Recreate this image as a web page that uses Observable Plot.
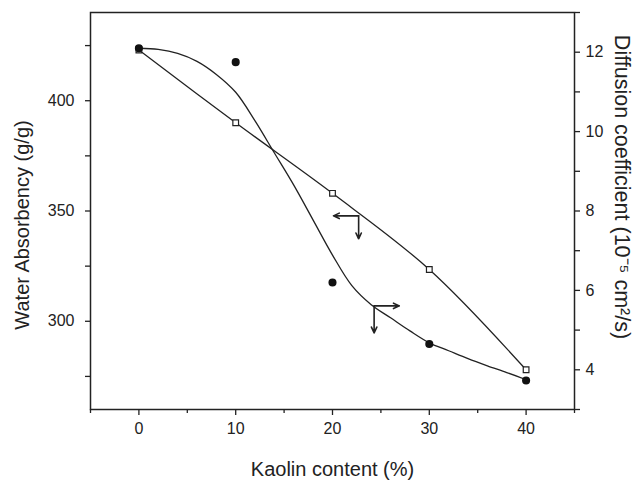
<!DOCTYPE html>
<html>
<head>
<meta charset="utf-8">
<script src="https://cdn.jsdelivr.net/npm/d3@7"></script>
<script src="https://cdn.jsdelivr.net/npm/@observablehq/plot@0.6"></script>
<style>
  body { margin: 0; background: #fff; }
</style>
</head>
<body>
<div id="chart"></div>
<script>
// ---- data ----
const kaolin = [0, 10, 20, 30, 40];
const absorbency = [423, 390, 358, 323.5, 278];          // left axis (g/g), open squares
const diffusion = [12.1, 11.75, 6.2, 4.65, 3.73];        // right axis (1e-5 cm2/s), filled circles
// fitted curve through diffusion data
const fitX = [0, 2, 4, 6, 8, 10, 12, 14, 16, 18, 20, 22, 24, 26, 28, 30, 32, 34, 36, 38, 40];
const fitDiffusion = [12.10, 12.07, 11.97, 11.77, 11.44, 10.99, 10.27, 9.46, 8.65, 7.77, 6.89,
                      6.12, 5.64, 5.31, 4.98, 4.68, 4.48, 4.28, 4.10, 3.93, 3.75];
// ticks
const xTicks = [0, 10, 20, 30, 40];
const xMinor = [-5, 5, 15, 25, 35, 45];
const leftTicks = [300, 350, 400];
const leftMinor = [275, 325, 375, 425];
const rightTicks = [4, 6, 8, 10, 12];
const rightMinor = [3, 5, 7, 9, 11, 13];
// annotation arrows
const arrowX1 = [22.7, 22.7, 24.3, 24.3];
const arrowY1 = [347.8, 347.8, 5.61, 5.61];
const arrowX2 = [20.1, 22.7, 26.9, 24.3];
const arrowY2 = [347.8, 337.4, 5.61, 4.93];
const arrowAxis = ["left", "left", "right", "right"];

// ---- scales ----
const leftDomain = [260, 440];
const rightDomain = [3, 13];
const k = (leftDomain[1] - leftDomain[0]) / (rightDomain[1] - rightDomain[0]);
const toLeft = v => leftDomain[0] + (v - rightDomain[0]) * k;
const fromLeft = v => rightDomain[0] + (v - leftDomain[0]) / k;

const squares = kaolin.map((x, i) => ({x, y: absorbency[i]}));
const circles = kaolin.map((x, i) => ({x, y: toLeft(diffusion[i])}));
const fit = fitX.map((x, i) => ({x, y: toLeft(fitDiffusion[i])}));
const arrows = arrowX1.map((x1, i) => ({
  x1, x2: arrowX2[i],
  y1: arrowAxis[i] === "left" ? arrowY1[i] : toLeft(arrowY1[i]),
  y2: arrowAxis[i] === "left" ? arrowY2[i] : toLeft(arrowY2[i])
}));

const ink = "#222";
const font = "'Liberation Sans', Arial, sans-serif";

const chart = Plot.plot({
  width: 638,
  height: 480,
  marginLeft: 90,
  marginRight: 64,
  marginTop: 12,
  marginBottom: 71,
  x: {domain: [-5, 45]},
  y: {domain: leftDomain},
  style: {fontFamily: font, fontSize: "16px", color: ink, background: "#fff"},
  marks: [
    Plot.frame({stroke: ink, strokeWidth: 1.5}),
    // x axis
    Plot.axisX({ticks: xTicks, tickSize: 6, tickPadding: 7, label: null, fontSize: 16, stroke: ink, strokeWidth: 1.3}),
    Plot.axisX({ticks: xMinor, tickSize: 4, tickFormat: () => "", label: null, stroke: ink, strokeWidth: 1.3}),
    // left axis
    Plot.axisY({ticks: leftTicks, tickSize: 5, tickPadding: 11, label: null, fontSize: 16, stroke: ink, strokeWidth: 1.3}),
    Plot.axisY({ticks: leftMinor, tickSize: 5, tickFormat: () => "", label: null, stroke: ink, strokeWidth: 1.3}),
    // right axis
    Plot.axisY({anchor: "right", ticks: rightTicks.map(toLeft), tickFormat: d => String(Math.round(fromLeft(d))),
      tickSize: 5, tickPadding: 6, label: null, fontSize: 16, stroke: ink, strokeWidth: 1.3}),
    Plot.axisY({anchor: "right", ticks: rightMinor.map(toLeft), tickFormat: () => "",
      tickSize: 5, label: null, stroke: ink, strokeWidth: 1.3}),
    // series
    Plot.line(squares, {x: "x", y: "y", curve: "catmull-rom", stroke: ink, strokeWidth: 1.3}),
    Plot.line(fit, {x: "x", y: "y", curve: "catmull-rom", stroke: ink, strokeWidth: 1.3}),
    Plot.dot(squares, {x: "x", y: "y", symbol: "square", r: 3.2, fill: "#fff", stroke: ink, strokeWidth: 1.2}),
    Plot.dot(circles, {x: "x", y: "y", r: 3.3, fill: "#111", stroke: "#111"}),
    // arrows
    Plot.arrow(arrows, {x1: "x1", y1: "y1", x2: "x2", y2: "y2", stroke: ink, strokeWidth: 1.6, headLength: 6, headAngle: 50}),
    // axis titles
    Plot.text(["Kaolin content (%)"], {frameAnchor: "bottom", dy: 60, fontSize: 20, fill: ink, lineAnchor: "middle", textAnchor: "middle"}),
    Plot.text(["Water Absorbency (g/g)"], {frameAnchor: "left", dx: -68, dy: 14, rotate: -90, fontSize: 20, fill: ink, lineAnchor: "middle", textAnchor: "middle"}),
    Plot.text(["Diffusion coefficient (10\u207B\u2075 cm\u00B2/s)"], {frameAnchor: "right", dx: 47, dy: -24, rotate: 90, fontSize: 21.5, fill: ink, lineAnchor: "middle", textAnchor: "middle"})
  ]
});
document.getElementById("chart").appendChild(chart);
</script>
</body>
</html>
